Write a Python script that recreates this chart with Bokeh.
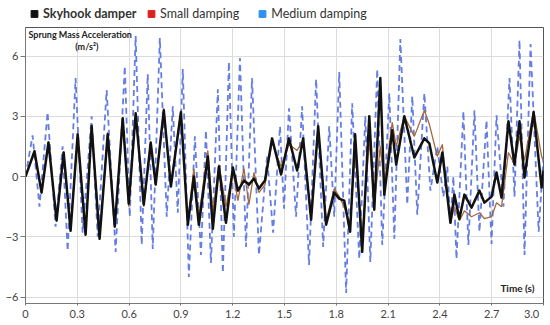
from bokeh.plotting import figure
from bokeh.layouts import column
from bokeh.models import Range1d, FixedTicker, Legend, LegendItem, Label
from bokeh.embed import file_html
from bokeh.resources import INLINE

# ---- data ----
time_s = [0.000, 0.052, 0.093, 0.133, 0.180, 0.221, 0.261, 0.302, 0.348, 0.383,
          0.429, 0.476, 0.517, 0.563, 0.598, 0.638, 0.685, 0.725, 0.754, 0.801,
          0.842, 0.900, 0.940, 0.975, 1.004, 1.056, 1.085, 1.120, 1.161, 1.201,
          1.230, 1.265, 1.294, 1.323, 1.352, 1.387, 1.428, 1.480, 1.526, 1.573,
          1.608, 1.654, 1.695, 1.741, 1.788, 1.817, 1.846, 1.880, 1.909, 1.950,
          1.991, 2.020, 2.055, 2.078, 2.124, 2.147, 2.194, 2.252, 2.310, 2.339,
          2.385, 2.414, 2.461, 2.484, 2.513, 2.542, 2.583, 2.629, 2.658, 2.699,
          2.728, 2.757, 2.797, 2.832, 2.861, 2.890, 2.943, 2.989, 3.000]

skyhook = [0.0, 1.26, -0.8, 1.7, -2.2, 1.2, -2.7, 2.1, -2.9, 2.5,
           -3.1, 2.1, -2.5, 2.9, -1.35, 3.15, -1.4, 1.7, -0.4, 3.3,
           -0.5, 3.2, -2.4, 0.0, -2.4, 1.0, -2.6, 0.5, -2.3, 0.45,
           -0.7, -0.2, -0.4, -0.1, -0.6, -0.2, 1.9, 0.1, 1.9, 0.3,
           1.9, -2.15, 2.5, -2.4, -0.8, -1.1, -1.2, -2.75, 2.1, -3.75,
           3.0, -1.65, 4.9, -0.9, 2.3, 0.6, 3.0, 0.95, 1.9, 1.65,
           -0.3, 1.2, -2.3, -0.9, -2.1, -0.9, -1.55, -0.7, -1.3, -1.0,
           0.2, -1.05, 2.75, 0.6, 2.75, -0.05, 3.2, -0.55, 0.3]

small_damping = [0.0, 1.2, -0.8, 1.75, -2.2, 1.25, -2.6, 2.0, -2.8, 2.6,
                 -3.0, 2.2, -2.4, 2.8, -1.5, 3.1, -1.5, 1.5, -0.3, 3.4,
                 -0.4, 3.3, -2.2, 0.4, -2.0, 1.3, -1.8, 0.6, -1.5, 0.3,
                 -1.2, 0.4, -1.4, 0.2, -0.8, -0.4, 1.7, 0.5, 1.6, 1.3,
                 1.8, -2.0, 2.4, -2.2, -0.6, -1.0, -1.5, -2.4, 1.2, -3.0,
                 1.8, -1.4, 1.5, -0.4, 2.7, 1.5, 3.0, 2.0, 3.3, 2.6,
                 1.0, 1.6, -2.3, -1.5, -2.2, -1.7, -2.0, -1.8, -2.1, -2.0,
                 -1.3, -1.5, 1.2, 0.6, 2.0, 0.8, 3.3, 1.0, 0.8]

time_medium = [0.000, 0.041, 0.081, 0.128, 0.174, 0.215, 0.244, 0.290, 0.331, 0.383,
               0.418, 0.470, 0.522, 0.575, 0.604, 0.638, 0.673, 0.708, 0.737, 0.778,
               0.818, 0.853, 0.882, 0.911, 0.946, 0.981, 1.016, 1.045, 1.074, 1.114,
               1.143, 1.178, 1.207, 1.242, 1.277, 1.312, 1.352, 1.399, 1.434, 1.474,
               1.497, 1.526, 1.567, 1.602, 1.642, 1.683, 1.724, 1.759, 1.788, 1.817,
               1.857, 1.892, 1.933, 1.968, 1.997, 2.037, 2.066, 2.107, 2.136, 2.171,
               2.211, 2.240, 2.269, 2.310, 2.345, 2.385, 2.420, 2.443, 2.461, 2.478,
               2.496, 2.536, 2.565, 2.600, 2.629, 2.670, 2.699, 2.728, 2.768, 2.803,
               2.832, 2.861, 2.890, 2.925, 2.972, 3.000]

medium_damping = [0.0, 2.05, -1.5, 3.2, -2.5, 1.5, -3.7, 4.9, -2.8, 3.0,
                  -3.0, 4.3, -3.75, 5.5, -2.0, 7.0, -3.4, 5.1, -3.6, 6.9,
                  -2.0, 3.5, -1.8, 5.35, -5.0, 2.0, -3.9, 2.3, -4.3, 4.35,
                  -4.8, 5.7, -3.0, 5.9, -3.5, 4.9, -3.9, 1.0, -2.8, 2.5,
                  -1.6, 3.4, -2.0, 3.5, -4.4, 4.85, -3.5, 2.5, -2.0, 5.2,
                  -5.8, 3.65, -4.1, 3.0, -4.25, 5.35, -3.4, 4.15, -3.1, 6.85,
                  -1.4, 4.0, -1.9, 4.15, -0.7, 1.5, -1.0, 0.5, -2.4, 0.0,
                  -4.1, 3.25, -3.4, 3.3, -2.75, 2.8, -3.35, 3.05, -1.5, 4.9,
                  -1.0, 6.8, -3.9, 6.6, -2.75, 1.0]

x_ticks = [0, 0.3, 0.6, 0.9, 1.2, 1.5, 1.8, 2.1, 2.4, 2.7, 3.0]
y_ticks = [-6, -3, 0, 3, 6]
series_names = ["Skyhook damper", "Small damping", "Medium damping"]
series_colors = ["#111111", "#e0201c", "#2f8ff0"]

FONT = "Lato"
W = 550
LEG_FIG_H = 26

# ---------- legend strip ----------
lf = figure(width=W, height=LEG_FIG_H, output_backend="svg", toolbar_location=None,
            x_range=Range1d(0, 1), y_range=Range1d(0, 1), x_axis_type=None, y_axis_type=None,
            min_border=0)
lf.outline_line_color = None
lf.grid.visible = False
sq = [lf.scatter(x=[-5], y=[-5], marker="square", color=c, size=8) for c in series_colors]
LEG_H = 17
common = dict(background_fill_alpha=0, border_line_alpha=0, padding=0, margin=0,
              glyph_width=18, glyph_height=LEG_H, label_height=LEG_H, label_standoff=0,
              label_text_font=FONT, label_text_font_size="12.5px", label_text_color="#333333",
              orientation="horizontal")
leg1 = Legend(items=[LegendItem(label=series_names[0], renderers=[sq[0]])],
              location=(0, 4), label_text_font_style="bold", **common)
leg2 = Legend(items=[LegendItem(label=series_names[1], renderers=[sq[1]]),
                     LegendItem(label=series_names[2], renderers=[sq[2]])],
              location=(117, 4), spacing=14, **common)
lf.add_layout(leg1)
lf.add_layout(leg2)

# ---------- main chart ----------
p = figure(width=W, height=325 - LEG_FIG_H, output_backend="svg", toolbar_location=None,
           x_range=Range1d(0, 3.0), y_range=Range1d(-6.32, 7.42),
           min_border_left=25, min_border_right=7, min_border_top=1, min_border_bottom=22)
p.background_fill_color = "white"
p.border_fill_color = "white"
p.outline_line_color = "#555555"
p.outline_line_width = 1

p.xaxis.ticker = FixedTicker(ticks=x_ticks)
p.yaxis.ticker = FixedTicker(ticks=y_ticks)
p.xaxis.major_label_overrides = {0: "0", 3.0: "3.0\u00a0\u00a0\u00a0\u00a0"}
for ax in (p.xaxis, p.yaxis):
    ax.axis_line_color = "#777777"
    ax.major_tick_line_color = "#777777"
    ax.minor_tick_line_color = None
    ax.major_label_text_font = FONT
    ax.major_label_text_font_size = "11px"
    ax.major_label_text_color = "#444444"
    ax.major_tick_in = 0
    ax.axis_label_standoff = 0
p.yaxis.major_tick_out = 5
p.yaxis.major_label_standoff = 2
p.xaxis.major_tick_out = 2
p.xaxis.major_label_standoff = 1
p.grid.grid_line_color = "#dcdcdc"
p.grid.grid_line_width = 1

p.line(time_medium, medium_damping, line_color="#5470e0", line_width=1.8, line_dash="6 4",
       line_alpha=0.9)
p.line(time_s, small_damping, line_color="#a3693c", line_width=1.3)
p.line(time_s, skyhook, line_color="#111111", line_width=2.5, line_join="round")

p.add_layout(Label(x=0.017, y=7.06, text="Sprung Mass Acceleration", text_font=FONT,
                   text_font_size="9px", text_font_style="bold", text_color="#222222",
                   text_baseline="middle", text_align="left"))
p.add_layout(Label(x=0.355, y=6.47, text="(m/s²)", text_font=FONT,
                   text_font_size="9px", text_font_style="bold", text_color="#222222",
                   text_baseline="middle", text_align="center"))
p.add_layout(Label(x=2.948, y=-5.57, text="Time (s)", text_font=FONT,
                   text_font_size="10px", text_font_style="bold", text_color="#222222",
                   text_baseline="middle", text_align="right"))

layout = column(lf, p, spacing=0)
open("out.html", "w").write(file_html(layout, INLINE))
